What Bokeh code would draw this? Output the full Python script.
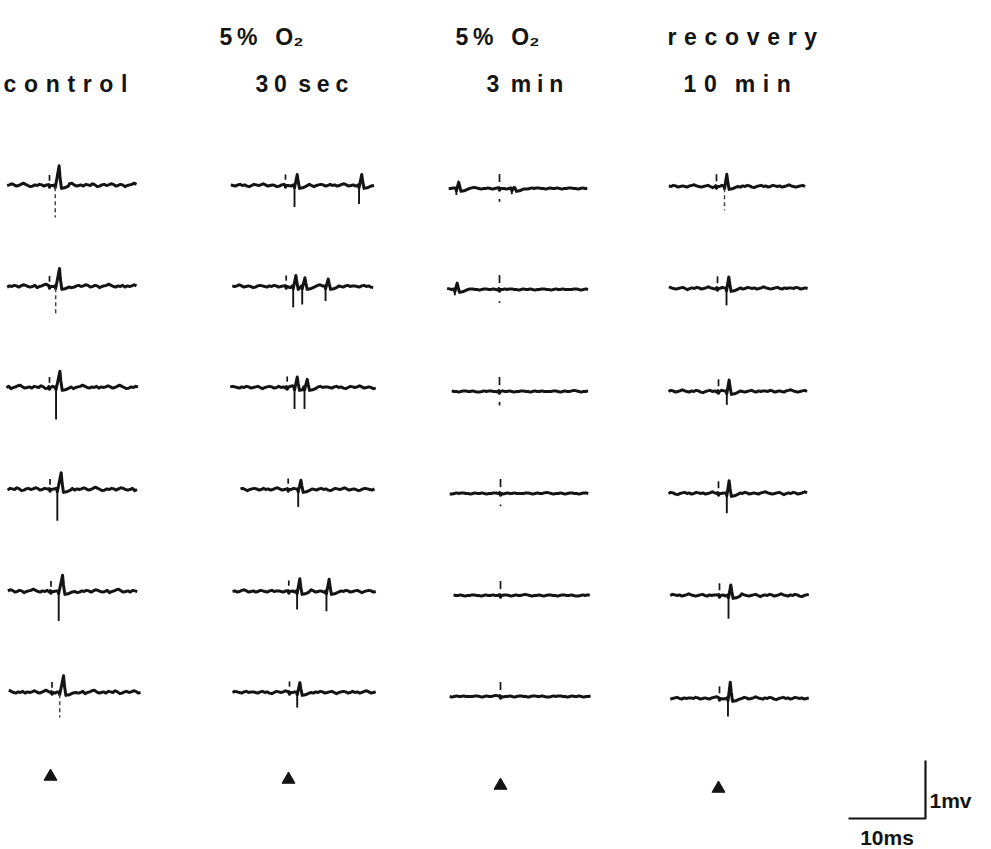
import numpy as np
from bokeh.plotting import figure
from bokeh.models import Range1d
from bokeh.core.properties import value
from bokeh.embed import file_html
from bokeh.resources import INLINE

# ---------------------------------------------------------------------------
# Calibration of the record (10 ms / 1 mV bar)
# ---------------------------------------------------------------------------
PX_PER_MS = 7.7
PX_PER_MV = 58.0
W, H = 991, 849

SCALE_MS = 10
SCALE_MV = 1
SCALE_LABELS = ["10ms", "1mv"]

# ---------------------------------------------------------------------------
# Column headings
# ---------------------------------------------------------------------------
HEADER_TOP = ["", "5% O₂", "5% O₂", "recovery"]
HEADER_BOTTOM = ["control", "30 sec", "3 min", "10 min"]

# ---------------------------------------------------------------------------
# Sweeps. Times in ms relative to the stimulus, amplitudes in mV.
# spike_t = onset of the negative deflection, up = positive peak, down = negative peak
# ---------------------------------------------------------------------------
CONTROL_START = [-5.5, -5.5, -5.6, -5.5, -5.6, -5.6]
CONTROL_END = [11.3, 11.3, 11.5, 11.5, 11.4, 11.6]
CONTROL_SPIKE_T = [[0.75], [0.80], [0.85], [0.95], [1.00], [1.00]]
CONTROL_SPIKE_UP = [[0.34], [0.31], [0.28], [0.29], [0.28], [0.29]]
CONTROL_SPIKE_DOWN = [[0.55], [0.47], [0.55], [0.54], [0.51], [0.43]]
CONTROL_FAINT = [True, True, False, False, False, True]

HYPOX30_START = [-7.1, -7.0, -7.4, -6.2, -7.3, -7.4]
HYPOX30_END = [11.5, 11.4, 11.5, 11.3, 11.5, 11.4]
HYPOX30_SPIKE_T = [[1.17, 9.55], [0.91, 2.08, 5.11], [0.95, 2.25], [1.30], [1.08, 4.89], [1.00]]
HYPOX30_SPIKE_UP = [[0.19, 0.19], [0.19, 0.15, 0.13], [0.18, 0.14], [0.16], [0.22, 0.21], [0.17]]
HYPOX30_SPIKE_DOWN = [[0.37, 0.32], [0.36, 0.31, 0.25], [0.37, 0.37], [0.30], [0.31, 0.34], [0.26]]
HYPOX30_FAINT = [False, False, False, False, False, False]

HYPOX3_START = [-6.6, -6.8, -6.2, -6.6, -6.1, -6.6]
HYPOX3_END = [11.6, 11.6, 11.7, 11.6, 11.7, 11.7]
HYPOX3_SPIKE_T = [[-5.6, 1.6], [-5.8], [], [], [], []]
HYPOX3_SPIKE_UP = [[0.11, 0.02], [0.11], [], [], [], []]
HYPOX3_SPIKE_DOWN = [[0.11, 0.10], [0.10], [], [], [], []]
HYPOX3_FAINT = [False, False, False, False, False, False]

RECOV_START = [-6.2, -6.3, -6.5, -6.5, -6.4, -6.4]
RECOV_END = [11.6, 11.7, 11.5, 11.7, 11.6, 11.7]
RECOV_SPIKE_T = [[1.04], [1.17], [1.08], [1.08], [1.17], [1.10]]
RECOV_SPIKE_UP = [[0.21], [0.20], [0.20], [0.22], [0.18], [0.28]]
RECOV_SPIKE_DOWN = [[0.41], [0.29], [0.23], [0.34], [0.40], [0.31]]
RECOV_FAINT = [True, False, False, False, False, False]

# baseline ripple, one sample every 0.3 ms (mV)
NOISE_STEP = 0.3
CONTROL_NOISE = [0.00, 0.01, 0.03, 0.01, -0.01, 0.00, 0.02, 0.04, 0.02, 0.00, -0.02, -0.01,
                 0.01, 0.00, 0.02, 0.01, -0.01, 0.01, 0.03, 0.02, 0.00, -0.01, 0.00, 0.02,
                 -0.02, 0.00, 0.01, 0.03, 0.04, 0.01, -0.01, 0.00, 0.01, -0.01, 0.02, 0.01,
                 0.00, 0.03, 0.01, -0.02, -0.01, 0.01, 0.02, 0.00, 0.01, 0.03, 0.02, -0.01,
                 0.00, 0.02, 0.01, -0.02, 0.00, 0.01, 0.02, 0.04, 0.02, 0.00, -0.01, 0.01,
                 0.00, 0.02, -0.01, 0.01]
HYPOX30_NOISE = [0.01, 0.00, -0.01, 0.01, 0.02, 0.00, 0.01, -0.01, -0.02, 0.00, 0.02, 0.01,
                 0.00, 0.01, 0.03, 0.01, -0.01, 0.00, 0.01, 0.00, -0.02, -0.01, 0.01, 0.02,
                 0.01, 0.00, -0.01, 0.01, 0.00, 0.02, 0.01, -0.01, 0.00, 0.01, 0.02, 0.00,
                 -0.02, 0.00, 0.01, 0.02, 0.01, -0.01, 0.00, 0.02, 0.00, 0.01, -0.01, 0.00,
                 0.02, 0.03, 0.01, -0.01, 0.00, 0.01, -0.01, 0.00, 0.02, 0.01, 0.00, -0.01,
                 0.01, 0.02, 0.00, 0.01]
HYPOX3_NOISE = [0.00, 0.00, 0.01, 0.01, 0.00, -0.01, 0.00, 0.01, 0.00, 0.00, 0.01, 0.02,
                0.01, 0.00, -0.01, 0.00, 0.00, 0.01, 0.00, -0.01, 0.00, 0.01, 0.01, 0.00,
                0.00, -0.01, 0.00, 0.01, 0.01, 0.00, 0.00, 0.01, 0.00, -0.01, -0.01, 0.00,
                0.01, 0.00, 0.01, 0.01, 0.00, 0.00, -0.01, 0.00, 0.01, 0.00, 0.00, 0.01,
                0.00, -0.01, 0.00, 0.00, 0.01, 0.01, 0.00, 0.00, -0.01, 0.00, 0.01, 0.00,
                0.00, 0.01, 0.00, 0.00]
RECOV_NOISE = [0.01, 0.00, 0.02, 0.01, -0.01, 0.00, 0.01, 0.00, -0.01, 0.01, 0.02, 0.03,
               0.01, 0.00, -0.01, 0.00, 0.01, 0.02, 0.00, -0.02, 0.00, 0.01, 0.00, 0.02,
               0.01, -0.01, 0.00, 0.01, 0.03, 0.01, 0.00, -0.01, 0.01, 0.00, 0.02, 0.01,
               -0.01, -0.02, 0.00, 0.01, 0.02, 0.00, 0.01, -0.01, 0.00, 0.02, 0.01, 0.00,
               0.01, -0.01, 0.00, 0.01, 0.03, 0.01, 0.00, -0.01, 0.00, 0.01, 0.02, 0.00,
               -0.01, 0.01, 0.00, 0.01]

# ---------------------------------------------------------------------------
# Page layout (pixels)
# ---------------------------------------------------------------------------
COL_STIM_X = [[49, 49, 49, 49.5, 50.5, 51.5],
              [285, 285.7, 286.7, 287.7, 288.3, 289],
              [499, 499, 499, 500, 500, 500],
              [716, 717, 718, 718, 719, 719]]
ROW_Y = [[185, 286, 387, 489, 591, 692],
         [185, 286, 387, 489, 591, 692],
         [188, 289, 391, 493, 595, 696],
         [186, 288, 391, 493, 595, 698]]
TRIANGLE_X = [50, 288, 500, 718]
TRIANGLE_Y = [776, 779, 785, 788]
HEADER_TOP_X = [0, 219, 455, 667]
HEADER_BOTTOM_X = [3, 255, 486, 683]
HEADER_TOP_Y, HEADER_BOTTOM_Y = 36, 83
SCALE_CORNER = (925, 818)

RISE_MS = [0.50, 0.35, 0.30, 0.30]          # negative-to-positive peak delay per column
TICK_ABOVE = [(0.08, 0.18), (0.10, 0.19), (0.11, 0.25), (0.09, 0.21)]
HYPOX3_BELOW = [(0.18, 0.23), (0.20, 0.23), (0.18, 0.24), (0.19, 0.22), None, None]

INK = "#141414"
FONT = "Liberation Sans"

EN, THREE, FOUR, THIN, HAIR = "\u2002", "\u2004", "\u2005", "\u2009", "\u200a"


def X(px):
    return px / PX_PER_MS


def Y(px):
    return -px / PX_PER_MV


def spread(text, gap, word_gap):
    words = []
    for w in text.split(" "):
        out = ""
        for i, ch in enumerate(w):
            if i > 0 and ch != "₂":
                out += gap
            out += ch
        words.append(out)
    return word_gap.join(words)


def sweep(start, end, spikes_t, ups, downs, noise, row, rise):
    grid = np.arange(start, end + 1e-6, NOISE_STEP)
    windows = [(-0.2, 0.25)] + [(td - 0.15, td + rise + 1.3) for td in spikes_t]
    pts = []
    for i, g in enumerate(grid):
        if any(a < g < b for a, b in windows):
            continue
        pts.append((g, noise[(i + 11 * row) % len(noise)]))
    pts += [(-0.1, 0.015), (0.0, -0.03), (0.12, 0.0)]
    for k, (td, up, down) in enumerate(zip(spikes_t, ups, downs)):
        tu = td + rise
        limit = spikes_t[k + 1] - 0.12 if k + 1 < len(spikes_t) else 1e9
        shape = [(td - 0.1, 0.01), (td, -0.04), (tu, up), (tu + 0.12, 0.4 * up),
                 (tu + 0.3, -0.05), (tu + 0.7, -0.04), (tu + 1.2, -0.01)]
        pts += [p for p in shape if p[0] < limit]
    pts.sort()
    return [p[0] for p in pts], [p[1] for p in pts]


columns = [
    (CONTROL_START, CONTROL_END, CONTROL_SPIKE_T, CONTROL_SPIKE_UP, CONTROL_SPIKE_DOWN, CONTROL_FAINT, CONTROL_NOISE),
    (HYPOX30_START, HYPOX30_END, HYPOX30_SPIKE_T, HYPOX30_SPIKE_UP, HYPOX30_SPIKE_DOWN, HYPOX30_FAINT, HYPOX30_NOISE),
    (HYPOX3_START, HYPOX3_END, HYPOX3_SPIKE_T, HYPOX3_SPIKE_UP, HYPOX3_SPIKE_DOWN, HYPOX3_FAINT, HYPOX3_NOISE),
    (RECOV_START, RECOV_END, RECOV_SPIKE_T, RECOV_SPIKE_UP, RECOV_SPIKE_DOWN, RECOV_FAINT, RECOV_NOISE),
]

p = figure(width=W, height=H, output_backend="svg", toolbar_location=None,
           x_axis_location=None, y_axis_location=None, min_border=0,
           x_range=Range1d(0, X(W)), y_range=Range1d(Y(H), 0))
p.grid.visible = False
p.outline_line_color = None
p.background_fill_color = "white"
p.border_fill_color = "white"

trace_xs, trace_ys = [], []
solid = dict(x0=[], y0=[], x1=[], y1=[])
faint = dict(x0=[], y0=[], x1=[], y1=[])
ticks = dict(x0=[], y0=[], x1=[], y1=[])

for c, (starts, ends, sts, ups, downs, faints, noise) in enumerate(columns):
    for r in range(6):
        x0 = X(COL_STIM_X[c][r])
        y0 = Y(ROW_Y[c][r])
        ts, vs = sweep(starts[r], ends[r], sts[r], ups[r], downs[r], noise, r, RISE_MS[c])
        trace_xs.append([x0 + t for t in ts])
        trace_ys.append([y0 + v for v in vs])
        for td, d in zip(sts[r], downs[r]):
            target = faint if faints[r] else solid
            target["x0"].append(x0 + td)
            target["x1"].append(x0 + td)
            target["y0"].append(y0 - 0.03)
            target["y1"].append(y0 - d)
        lo, hi = TICK_ABOVE[c]
        ticks["x0"].append(x0)
        ticks["x1"].append(x0)
        ticks["y0"].append(y0 + lo)
        ticks["y1"].append(y0 + hi)
        if c == 2 and HYPOX3_BELOW[r] is not None:
            blo, bhi = HYPOX3_BELOW[r]
            ticks["x0"].append(x0)
            ticks["x1"].append(x0)
            ticks["y0"].append(y0 - blo)
            ticks["y1"].append(y0 - bhi)

p.multi_line(trace_xs, trace_ys, line_color=INK, line_width=3.0, line_join="round")
p.segment(**solid, line_color=INK, line_width=1.9)
p.segment(**faint, line_color="#444444", line_width=1.5, line_dash="4 3")
p.segment(**ticks, line_color=INK, line_width=1.7)

# stimulus markers
p.scatter(x=[X(v) for v in TRIANGLE_X], y=[Y(v) for v in TRIANGLE_Y], marker="triangle",
          size=13, fill_color=INK, line_color=INK)

# calibration bar
cx, cy = X(SCALE_CORNER[0]), Y(SCALE_CORNER[1])
p.line([cx - SCALE_MS, cx, cx], [cy, cy, cy + SCALE_MV], line_color=INK, line_width=2.2)
p.text(x=[cx - SCALE_MS / 2], y=[cy - 19 / PX_PER_MV], text=[SCALE_LABELS[0]],
       text_font=value(FONT), text_font_style="bold", text_font_size="21px",
       text_color=INK, text_align="center", text_baseline="alphabetic")
p.text(x=[cx + 4 / PX_PER_MS], y=[cy + 18 / PX_PER_MV], text=[SCALE_LABELS[1]],
       text_font=value(FONT), text_font_style="bold", text_font_size="21px",
       text_color=INK, text_align="left", text_baseline="alphabetic")

# headings, set with the wide letter spacing of the original lettering
top_text = [spread(HEADER_TOP[1], THIN, EN + " "),
            spread(HEADER_TOP[2], THIN, EN + " "),
            spread(HEADER_TOP[3], THREE, EN)]
bottom_text = [spread(HEADER_BOTTOM[0], THREE, EN),
               spread(HEADER_BOTTOM[1], FOUR, EN),
               spread(HEADER_BOTTOM[2], FOUR, EN),
               spread(HEADER_BOTTOM[3], THREE, EN + " ")]
p.text(x=[X(v) for v in HEADER_TOP_X[1:]], y=[Y(HEADER_TOP_Y)] * 3, text=top_text,
       text_font=value(FONT), text_font_style="bold", text_font_size="23px",
       text_color=INK, text_align="left", text_baseline="alphabetic")
p.text(x=[X(v) for v in HEADER_BOTTOM_X], y=[Y(HEADER_BOTTOM_Y)] * 4, text=bottom_text,
       text_font=value(FONT), text_font_style="bold", text_font_size="23px",
       text_color=INK, text_align="left", text_baseline="alphabetic")

open("out.html", "w").write(file_html(p, INLINE))
